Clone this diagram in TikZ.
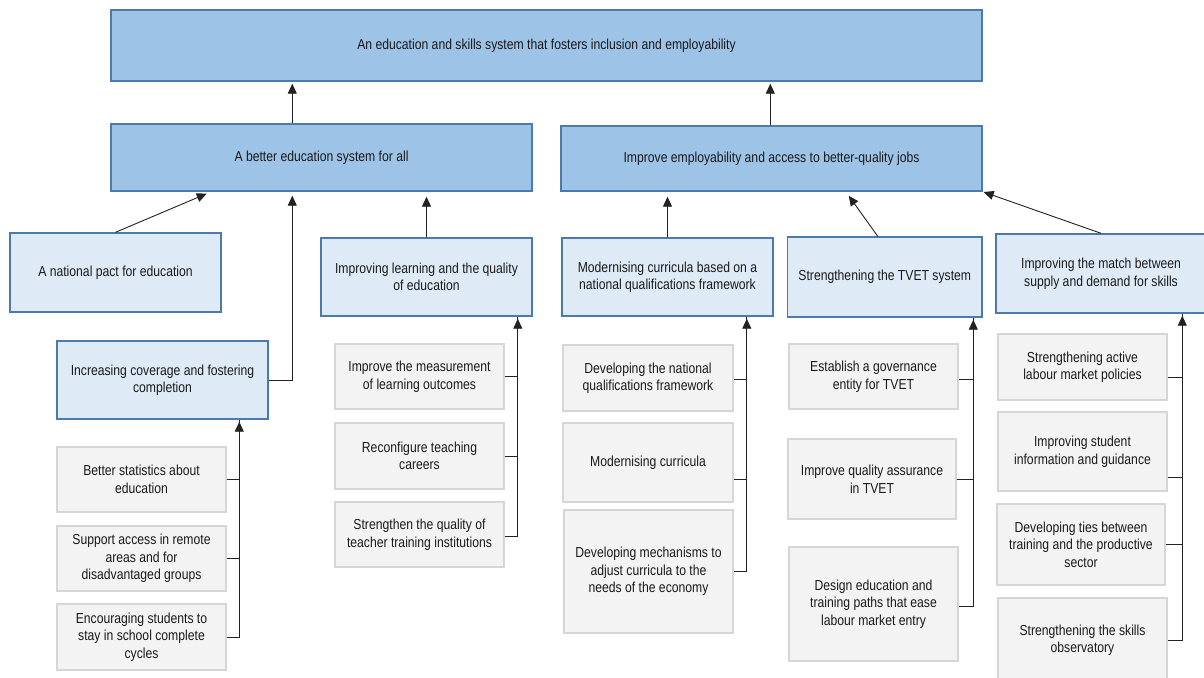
\documentclass[tikz,border=0pt]{standalone}
\usepackage{fontspec}
\setmainfont{Liberation Sans}[FakeStretch=0.84]
\usetikzlibrary{arrows.meta}
\definecolor{dkfill}{HTML}{9DC3E6}
\definecolor{ltfill}{HTML}{DEEBF7}
\definecolor{bluebd}{HTML}{4A7AAE}
\definecolor{gfill}{HTML}{F3F3F3}
\definecolor{gbd}{HTML}{D6D6D6}
\definecolor{txt}{HTML}{1A1A1A}
\definecolor{lnc}{HTML}{222222}
\tikzset{
  base/.style={rectangle, inner sep=0pt, align=center, text=txt,
    font=\fontsize{14.5}{17.5}\selectfont},
  dkbox/.style={base, fill=dkfill, draw=bluebd, line width=1.4pt},
  ltbox/.style={base, fill=ltfill, draw=bluebd, line width=1.4pt},
  gbox/.style={base, fill=gfill, draw=gbd, line width=1.5pt},
  conn/.style={draw=lnc, line width=0.9pt},
  arr/.style={conn, -{Triangle[length=10pt,width=9pt]}, shorten >=2pt},
}
\begin{document}
\begin{tikzpicture}[x=1pt,y=-1pt]
\useasboundingbox (0,0) rectangle (1204,677);
% top
\node[dkbox, minimum width=871pt, minimum height=71pt] (T) at (546.5,45.5)
  {An education and skills system that fosters inclusion and employability};
\node[dkbox, minimum width=421pt, minimum height=67pt] (L) at (321.5,157.5)
  {A better education system for all};
\node[dkbox, minimum width=421pt, minimum height=65pt] (R) at (771.5,158.5)
  {Improve employability and access to better-quality jobs};
% level 3
\node[ltbox, minimum width=211pt, minimum height=79pt] (pact) at (115.5,272.5)
  {A national pact for education};
\node[ltbox, minimum width=211pt, minimum height=78pt] (cov) at (162.5,380)
  {Increasing coverage and fostering\\completion};
\node[ltbox, minimum width=211pt, minimum height=78pt] (learn) at (426.5,277)
  {Improving learning and the quality\\of education};
\node[ltbox, minimum width=211pt, minimum height=78pt] (mod) at (667.5,277)
  {Modernising curricula based on a\\national qualifications framework};
\node[ltbox, minimum width=194.5pt, minimum height=80pt] (tvet) at (884.75,277)
  {Strengthening the TVET system};
\node[ltbox, minimum width=210pt, minimum height=79pt] (match) at (1101,273.5)
  {Improving the match between\\supply and demand for skills};
% grey boxes
\node[gbox, minimum width=169pt, minimum height=65pt] (bs) at (141.5,479.5)
  {Better statistics about\\education};
\node[gbox, minimum width=169pt, minimum height=65pt] (sa) at (141.5,558.5)
  {Support access in remote\\areas and for\\disadvantaged groups};
\node[gbox, minimum width=169pt, minimum height=66pt] (enc) at (141.5,637)
  {Encouraging students to\\stay in school complete\\cycles};
\node[gbox, minimum width=169pt, minimum height=65pt] (meas) at (419.5,376.5)
  {Improve the measurement\\of learning outcomes};
\node[gbox, minimum width=169pt, minimum height=66pt] (rec) at (419.5,456)
  {Reconfigure teaching\\careers};
\node[gbox, minimum width=169pt, minimum height=65pt] (sq) at (419.5,534.5)
  {Strengthen the quality of\\teacher training institutions};
\node[gbox, minimum width=170pt, minimum height=66pt] (nqf) at (648,378)
  {Developing the national\\qualifications framework};
\node[gbox, minimum width=170pt, minimum height=79pt] (mc) at (648,462.5)
  {Modernising curricula};
\node[gbox, minimum width=169pt, minimum height=123pt] (mech) at (648.5,571.5)
  {Developing mechanisms to\\adjust curricula to the\\needs of the economy};
\node[gbox, minimum width=169pt, minimum height=65pt] (gov) at (873.5,376.5)
  {Establish a governance\\entity for TVET};
\node[gbox, minimum width=168pt, minimum height=80pt] (qa) at (872,479)
  {Improve quality assurance\\in TVET};
\node[gbox, minimum width=169pt, minimum height=114pt] (des) at (873.5,604)
  {Design education and\\training paths that ease\\labour market entry};
\node[gbox, minimum width=169pt, minimum height=66pt] (alm) at (1082.5,367)
  {Strengthening active\\labour market policies};
\node[gbox, minimum width=169pt, minimum height=79pt] (sig) at (1082.5,451.5)
  {Improving student\\information and guidance};
\node[gbox, minimum width=168pt, minimum height=81pt] (ties) at (1081,544.5)
  {Developing ties between\\training and the productive\\sector};
\node[gbox, minimum width=169pt, minimum height=84pt] (obs) at (1082.5,640)
  {Strengthening the skills\\observatory};
% helper coordinates
\path ([xshift=182pt]L.north west) coordinate (Lup)
      ([xshift=210pt]R.north west) coordinate (Rup)
      ([xshift=183pt]cov.south west) coordinate (covin)
      ([xshift=197.5pt]learn.south west) coordinate (learnin)
      ([xshift=185.5pt]mod.south west) coordinate (modin)
      ([xshift=186.5pt]tvet.south west) coordinate (tvetin)
      ([xshift=187pt]match.south west) coordinate (matchin);
% level 2 -> top
\draw[arr] (Lup) -- (Lup |- T.south);
\draw[arr] (Rup) -- (Rup |- T.south);
% level 3 -> level 2
\draw[arr, shorten >=5pt] (pact.north) -- ([xshift=101pt]L.south west);
\draw[arr, shorten >=4pt] (cov.east) -| (Lup |- L.south);
\draw[arr, shorten >=5pt] (learn.north) -- (learn.north |- L.south);
\draw[arr, shorten >=5pt] (mod.north) -- (mod.north |- R.south);
\draw[arr, shorten >=5pt] ([xshift=-7pt]tvet.north) -- ([xshift=285.5pt]R.south west);
\draw[arr, shorten >=1pt] (match.north) -- (R.south east);
% grey -> level 3
\draw[conn] (bs.east) -| (covin);
\draw[conn] (sa.east) -| (covin);
\draw[arr] (enc.east) -| (covin);
\draw[conn] (meas.east) -| (learnin);
\draw[conn] (rec.east) -| (learnin);
\draw[arr] ([yshift=-1.5pt]sq.east) -| (learnin);
\draw[conn] ([yshift=-1pt]nqf.east) -| (modin);
\draw[conn] ([yshift=-16.5pt]mc.east) -| (modin);
\draw[arr] (mech.east) -| (modin);
\draw[conn] ([yshift=-2.5pt]gov.east) -| (tvetin);
\draw[conn] (qa.east) -| (tvetin);
\draw[arr] ([yshift=-2pt]des.east) -| (tvetin);
\draw[conn] ([yshift=-10pt]alm.east) -| (matchin);
\draw[conn] ([yshift=-25.5pt]sig.east) -| (matchin);
\draw[conn] (ties.east) -| (matchin);
\draw[arr] (obs.east) -| (matchin);
\end{tikzpicture}
\end{document}
